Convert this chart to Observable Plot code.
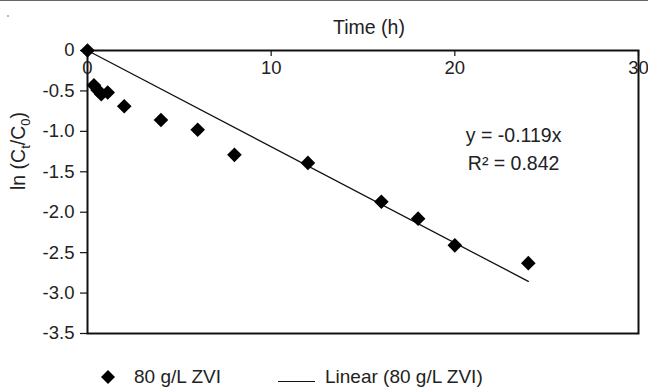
<!DOCTYPE html>
<html>
<head>
<meta charset="utf-8">
<script src="https://cdn.jsdelivr.net/npm/d3@7"></script>
<script src="https://cdn.jsdelivr.net/npm/@observablehq/plot@0.6"></script>
<style>
  html, body { margin: 0; padding: 0; background: #fff; }
  #wrap { position: relative; width: 648px; height: 387px; border-top: 1px solid #666; font-family: "Liberation Sans", Arial, sans-serif; color: #222; overflow: hidden; }
  #dot { position: absolute; left: 7px; top: 14px; width: 2px; height: 2px; background: #bbb; }
  #legend { position: relative; height: 42px; }
  #legend .item { position: absolute; font-size: 19px; line-height: 19px; white-space: nowrap; }
</style>
</head>
<body>
<div id="wrap">
  <div id="dot"></div>
  <div id="chart"></div>
  <div id="legend"></div>
</div>
<script>
// Data
const time = [0, 0.35, 0.55, 0.75, 1.1, 2, 4, 6, 8, 12, 16, 18, 20, 24];
const lnRatio = [0, -0.43, -0.49, -0.54, -0.52, -0.69, -0.86, -0.98, -1.29, -1.39, -1.87, -2.08, -2.41, -2.63];
const slope = -0.119;
const r2 = 0.842;
const fitTime = [0, 24];
const xTicks = [0, 10, 20, 30];
const yTicks = [0, -0.5, -1.0, -1.5, -2.0, -2.5, -3.0, -3.5];
const seriesName = "80 g/L ZVI";
const fitName = "Linear (80 g/L ZVI)";
const xTitle = "Time (h)";
const yTitle = "ln (Ct/C0)";

const points = time.map((t, i) => ({t, v: lnRatio[i]}));
const fit = fitTime.map(t => ({t, v: slope * t}));

const FONT = "Liberation Sans, Arial, sans-serif";
const H = 345;

const chart = Plot.plot({
  width: 648,
  height: H,
  marginTop: 49,
  marginBottom: 13,
  marginLeft: 87,
  marginRight: 10,
  style: {fontFamily: FONT, background: "#fff", color: "#222", overflow: "visible"},
  x: {domain: [0, 30], axis: null},
  y: {domain: [-3.5, 0], axis: null},
  marks: [
    // x tick labels (below the top line)
    Plot.text(xTicks, {x: d => d, frameAnchor: "top", lineAnchor: "middle", dy: 18, text: d => String(d), fontSize: 18.5, fill: "#222"}),
    // x ticks pointing inward from top
    Plot.tickX(xTicks, {x: d => d, insetBottom: 277, stroke: "#111", strokeWidth: 1.2}),
    Plot.axisY({ticks: yTicks, label: null, tickFormat: d => d === 0 ? "0" : d.toFixed(1), tickSize: 7, tickPadding: 6, fontSize: 18.5, stroke: "#111", strokeWidth: 1.2, fill: "#222"}),
    Plot.text([xTitle], {frameAnchor: "top", lineAnchor: "middle", dx: 6, dy: -23, fontSize: 19.5, fill: "#222"}),
    Plot.text([yTitle], {frameAnchor: "left", lineAnchor: "middle", dx: -69, dy: -2, rotate: -90, fontSize: 19.5, fill: "#222"}),
    Plot.line(fit, {x: "t", y: "v", stroke: "#111", strokeWidth: 1.3}),
    Plot.frame({stroke: "#111", strokeWidth: 2}),
    Plot.dot(points, {x: "t", y: "v", symbol: "diamond2", r: 6.6, fill: "#000", stroke: "none"}),
    Plot.text([`y = ${slope}x`], {x: [23.2], y: [-1.05], fontSize: 19.5, fill: "#222"}),
    Plot.text([`R² = ${r2}`], {x: [23.2], y: [-1.40], fontSize: 19.5, fill: "#222"})
  ]
});

// rebuild y-title with real subscripts
d3.select(chart).selectAll("text").filter(function() { return this.textContent === yTitle; }).each(function() {
  const t = d3.select(this);
  t.text(null);
  t.append("tspan").text("ln (C");
  t.append("tspan").attr("font-size", 13).attr("dy", 5).text("t");
  t.append("tspan").attr("dy", -5).text("/C");
  t.append("tspan").attr("font-size", 13).attr("dy", 5).text("0");
  t.append("tspan").attr("dy", -5).text(")");
});

document.getElementById("chart").appendChild(chart);

// legend
const legend = document.getElementById("legend");
const mk = (left, top, html) => {
  const d = document.createElement("div");
  d.className = "item";
  d.style.left = left + "px";
  d.style.top = top + "px";
  d.innerHTML = html;
  legend.appendChild(d);
  return d;
};
mk(101, 24, '<svg width="14" height="14" style="display:block"><polygon points="7,0 14,7 7,14 0,7" fill="#000"/></svg>');
mk(134, 21, seriesName);
mk(278, 35, '<div style="width:37px;height:1.3px;background:#111"></div>');
mk(325, 21, fitName);
</script>
</body>
</html>
